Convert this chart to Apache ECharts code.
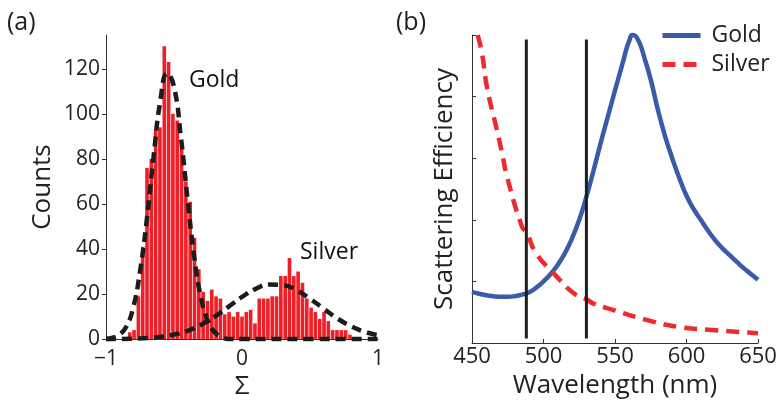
<!DOCTYPE html>
<html>
<head>
<meta charset="utf-8">
<script src="https://cdn.jsdelivr.net/npm/echarts@6/dist/echarts.min.js"></script>
<style>
html, body { margin: 0; padding: 0; background: #fff; }
#chart { width: 783px; height: 405px; }
</style>
</head>
<body>
<div id="chart"></div>
<script>
// (a) histogram of Sigma: 63 bins over [-1, 1]
var sigmaBins = 63;
var counts = [0, 0, 0, 0, 0,
  3, 4, 19, 41, 76, 80, 93, 94, 130, 123,
  100, 97, 86, 70, 61, 45, 31, 21, 17, 22,
  19, 18, 11, 12, 10, 12, 10, 12, 13, 7,
  18, 18, 18, 19, 19, 28, 28, 36, 28, 30,
  25, 18, 14, 12, 9, 12, 8, 4, 4, 4,
  4, 2,
  0, 0, 0, 0, 0, 0];

// gaussian fits (dashed)
var goldFitX = [-1, -0.95, -0.9, -0.85, -0.8, -0.75, -0.7, -0.65, -0.6, -0.55, -0.5, -0.45, -0.4, -0.35, -0.3, -0.25, -0.2, -0.15, -0.1, 0, 0.5, 1];
var goldFitY = [0, 0.6, 2, 5.6, 14, 30, 53, 81, 106, 118, 112, 90, 62, 36, 18, 8, 3, 1, 0, 0, 0, 0];
var silverFitX = [-1, -0.8, -0.6, -0.5, -0.4, -0.3, -0.2, -0.1, 0, 0.1, 0.2, 0.3, 0.4, 0.5, 0.6, 0.7, 0.8, 0.9, 1];
var silverFitY = [0, 0.2, 1, 2, 3.7, 6.4, 10, 14.3, 18.7, 22.3, 24.2, 24, 21.7, 17.9, 13.5, 9.2, 5.8, 3.3, 1.7];

// (b) scattering spectra, normalised
var goldWl = [450, 455, 460, 465, 470, 475, 480, 485, 490, 495, 500, 505, 510, 515, 520, 525, 530, 535, 540, 545, 550, 553, 556, 558, 560, 562, 564, 566, 568, 570, 575, 580, 585, 590, 595, 600, 605, 610, 615, 620, 625, 630, 635, 640, 645, 650];
var goldEff = [0.166, 0.160, 0.155, 0.152, 0.150, 0.150, 0.152, 0.157, 0.165, 0.180, 0.200, 0.224, 0.254, 0.292, 0.34, 0.40, 0.475, 0.56, 0.65, 0.735, 0.82, 0.87, 0.92, 0.955, 0.982, 1.0, 0.998, 0.985, 0.965, 0.935, 0.855, 0.757, 0.672, 0.600, 0.535, 0.478, 0.435, 0.400, 0.365, 0.334, 0.308, 0.286, 0.264, 0.243, 0.224, 0.205];
var silverWl = [454, 457, 460.5, 467.5, 471, 474.5, 485, 488, 495, 507, 521, 530, 535, 549, 572, 595, 618, 650];
var silverEff = [1.0, 0.94, 0.83, 0.69, 0.617, 0.54, 0.377, 0.36, 0.29, 0.227, 0.162, 0.142, 0.128, 0.107, 0.075, 0.052, 0.042, 0.032];
var laserWl = [488, 530];
var laserSpan = [0.015, 0.985];

var font = 'Open Sans';
var axisColor = '#333';

function pairs(xs, ys) {
  return xs.map(function (x, i) { return [x, ys[i]]; });
}
function minus(v) {
  return v < 0 ? '\u2212' + Math.abs(v) : String(v);
}

var binLabels = [];
for (var i = 0; i < sigmaBins; i++) binLabels.push(String(i));

var fitStyle = { color: '#1c1c1c', width: 4.5, type: [10, 6] };

var series = [
  {
    type: 'bar', xAxisIndex: 1, yAxisIndex: 0,
    data: counts, barCategoryGap: '16%',
    itemStyle: { color: '#ee1f26' }, silent: true
  },
  {
    type: 'line', xAxisIndex: 0, yAxisIndex: 0, smooth: true, symbol: 'none', clip: false,
    data: pairs(goldFitX, goldFitY), lineStyle: fitStyle
  },
  {
    type: 'line', xAxisIndex: 0, yAxisIndex: 0, smooth: true, symbol: 'none', clip: false,
    data: pairs(silverFitX, silverFitY), lineStyle: fitStyle
  },
  {
    name: 'Gold', type: 'line', xAxisIndex: 2, yAxisIndex: 1, smooth: true, symbol: 'none', clip: false,
    data: pairs(goldWl, goldEff), lineStyle: { color: '#3a5ba8', width: 4.5 }, itemStyle: { color: '#3a5ba8' }, z: 3
  },
  {
    name: 'Silver', type: 'line', xAxisIndex: 2, yAxisIndex: 1, smooth: true, symbol: 'none', clip: false,
    data: pairs(silverWl, silverEff), lineStyle: { color: '#ee2a2e', width: 4.5, type: [13, 8] }, itemStyle: { color: '#ee2a2e' }, z: 3
  }
];
laserWl.forEach(function (wl) {
  series.push({
    type: 'line', xAxisIndex: 2, yAxisIndex: 1, symbol: 'none',
    data: laserSpan.map(function (v) { return [wl, v]; }),
    lineStyle: { color: '#1e1e1e', width: 3 }, z: 4
  });
});

var labelStyle = { color: '#222', fontFamily: font };

var option = {
  animation: false,
  backgroundColor: '#fff',
  textStyle: { fontFamily: font },
  title: [
    { text: '(a)', left: 7, top: 10, padding: 0, textStyle: { fontSize: 25, fontWeight: 'normal', color: '#222', fontFamily: font } },
    { text: '(b)', left: 396, top: 10, padding: 0, textStyle: { fontSize: 25, fontWeight: 'normal', color: '#222', fontFamily: font } },
    { text: 'Gold', left: 189, top: 69, padding: 0, textStyle: { fontSize: 23, fontWeight: 'normal', color: '#111', fontFamily: font } },
    { text: 'Silver', left: 300, top: 241, padding: 0, textStyle: { fontSize: 23, fontWeight: 'normal', color: '#111', fontFamily: font } }
  ],
  legend: {
    data: ['Gold', 'Silver'], orient: 'vertical', left: 660, top: 24,
    itemWidth: 38, itemHeight: 14, itemGap: 6, padding: 0,
    itemStyle: { color: 'transparent', borderColor: 'transparent', borderWidth: 0 },
    lineStyle: { width: 5 },
    textStyle: { fontSize: 23, color: '#222', fontFamily: font, padding: [0, 0, 0, 6] }
  },
  grid: [
    { left: 106, top: 35, width: 272, height: 309 },
    { left: 472, top: 35, width: 286, height: 308 }
  ],
  xAxis: [
    {
      gridIndex: 0, type: 'value', min: -1, max: 1, interval: 1,
      name: '\u03a3', nameLocation: 'middle', nameGap: 27,
      nameTextStyle: { fontSize: 26, color: '#222', fontFamily: font },
      axisLine: { onZero: false, lineStyle: { color: axisColor } }, axisTick: { show: false },
      axisLabel: Object.assign({ fontSize: 21, margin: 9, formatter: minus }, labelStyle),
      splitLine: { show: false }
    },
    {
      gridIndex: 0, type: 'category', data: binLabels, show: false, boundaryGap: true
    },
    {
      gridIndex: 1, type: 'value', min: 450, max: 650, interval: 50,
      name: 'Wavelength (nm)', nameLocation: 'middle', nameGap: 27,
      nameTextStyle: { fontSize: 26, color: '#222', fontFamily: font },
      axisLine: { onZero: false, lineStyle: { color: axisColor } },
      axisTick: { inside: true, length: 4, lineStyle: { color: axisColor } },
      axisLabel: Object.assign({ fontSize: 22, margin: 3 }, labelStyle),
      splitLine: { show: false }
    }
  ],
  yAxis: [
    {
      gridIndex: 0, type: 'value', min: 0, max: 135, interval: 20,
      name: 'Counts', nameLocation: 'middle', nameGap: 50,
      nameTextStyle: { fontSize: 26, color: '#222', fontFamily: font },
      axisLine: { show: true, onZero: false, lineStyle: { color: axisColor } },
      axisTick: { show: true, length: 4, lineStyle: { color: axisColor } },
      axisLabel: Object.assign({ fontSize: 21, margin: 6, showMaxLabel: false }, labelStyle),
      splitLine: { show: false }
    },
    {
      gridIndex: 1, type: 'value', min: 0, max: 1, interval: 0.2,
      name: 'Scattering Efficiency', nameLocation: 'middle', nameGap: 14,
      nameTextStyle: { fontSize: 26, color: '#222', fontFamily: font },
      axisLine: { show: true, onZero: false, lineStyle: { color: axisColor } },
      axisTick: { show: true, inside: true, length: 4, lineStyle: { color: axisColor } },
      axisLabel: { show: false },
      splitLine: { show: false }
    }
  ],
  series: series
};

var chart = echarts.init(document.getElementById('chart'), null, { renderer: 'canvas' });
chart.setOption(option);
</script>
</body>
</html>
